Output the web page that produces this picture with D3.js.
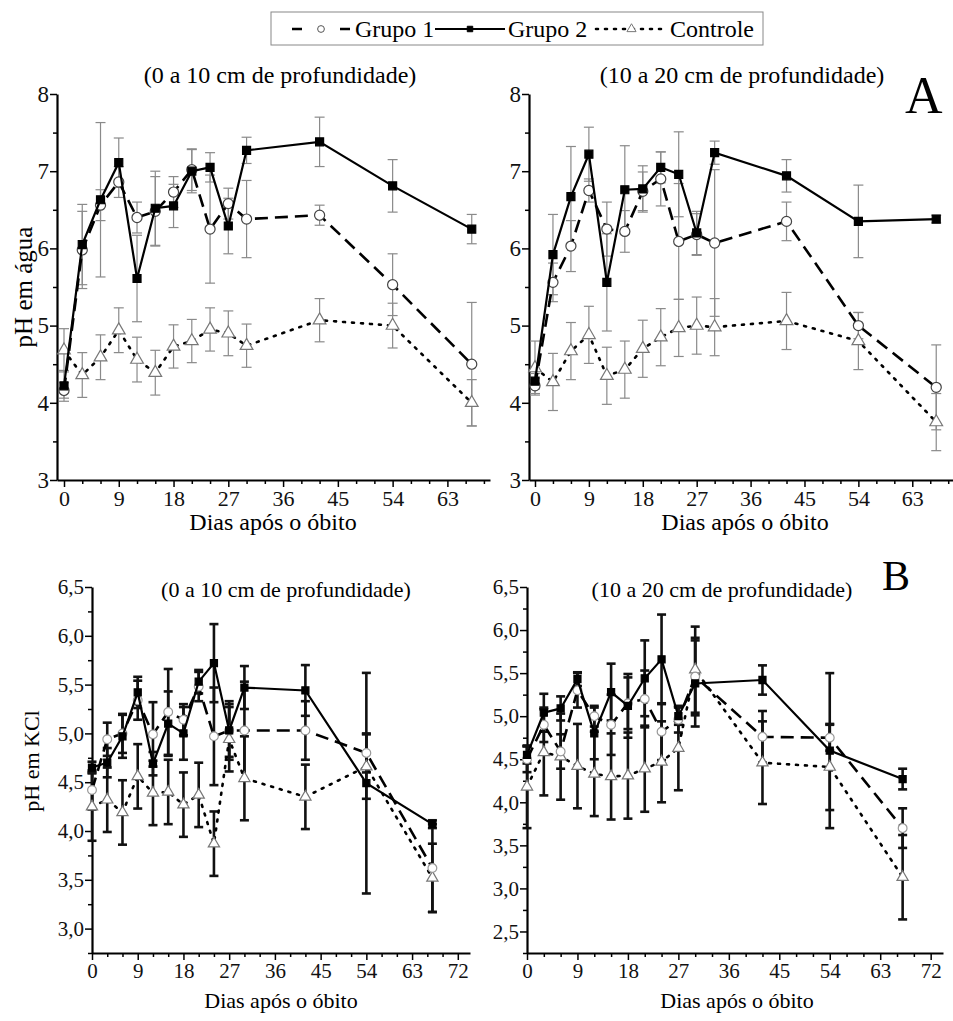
<!DOCTYPE html>
<html>
<head>
<meta charset="utf-8">
<script src="https://cdn.jsdelivr.net/npm/d3@7"></script>
<style>
  body { margin: 0; background: #fff; }
  svg { display: block; font-family: "Liberation Serif", "Times New Roman", serif; }
</style>
</head>
<body>
<svg id="chart"></svg>
<script>
// sampling days (dias após o óbito)
const days = [0, 3, 6, 9, 12, 15, 18, 21, 24, 27, 30, 42, 54, 67];

// pH em água, 0 a 10 cm
const agua010G1 = [4.16, 5.98, 6.56, 6.86, 6.40, 6.48, 6.73, 7.02, 6.25, 6.58, 6.38, 6.43, 5.53, 4.50];
const agua010G1Err = [0.10, 0.50, 0.20, 0.20, 0.20, 0.45, 0.20, 0.27, 0.70, 0.20, 0.50, 0.13, 0.40, 0.80];
const agua010G2 = [4.22, 6.05, 6.63, 7.11, 5.61, 6.52, 6.55, 7.00, 7.05, 6.29, 7.27, 7.38, 6.81, 6.25];
const agua010G2Err = [0.20, 0.52, 1.00, 0.32, 0.56, 0.48, 0.28, 0.28, 0.19, 0.36, 0.17, 0.32, 0.34, 0.19];
const agua010Ctrl = [4.68, 4.36, 4.59, 4.94, 4.56, 4.39, 4.73, 4.80, 4.95, 4.90, 4.74, 5.07, 5.00, 4.00];
const agua010CtrlErr = [0.28, 0.29, 0.29, 0.29, 0.29, 0.29, 0.28, 0.28, 0.28, 0.29, 0.28, 0.28, 0.29, 0.30];

// pH em água, 10 a 20 cm
const agua1020G1 = [4.22, 5.56, 6.03, 6.75, 6.25, 6.22, 6.74, 6.90, 6.09, 6.18, 6.07, 6.35, 5.00, 4.20];
const agua1020G1Err = [0.10, 0.25, 0.33, 0.15, 0.35, 0.27, 0.25, 0.35, 0.75, 0.27, 0.95, 0.25, 0.17, 0.55];
const agua1020G2 = [4.28, 5.92, 6.67, 7.22, 5.56, 6.76, 6.77, 7.05, 6.96, 6.20, 7.24, 6.94, 6.35, 6.38];
const agua1020G2Err = [0.10, 0.52, 0.65, 0.35, 0.63, 0.57, 0.30, 0.20, 0.55, 0.28, 0.15, 0.21, 0.47, 0.05];
const agua1020Ctrl = [4.45, 4.27, 4.67, 4.88, 4.35, 4.43, 4.70, 4.85, 4.97, 5.00, 4.98, 5.06, 4.80, 3.75];
const agua1020CtrlErr = [0.35, 0.37, 0.37, 0.37, 0.37, 0.37, 0.37, 0.37, 0.37, 0.37, 0.37, 0.37, 0.37, 0.37];

// pH em KCl, 0 a 10 cm
const kcl010G1 = [4.42, 4.94, 5.00, 5.34, 4.99, 5.22, 5.14, 5.48, 4.97, 5.03, 5.03, 5.03, 4.80, 3.62];
const kcl010G1Err = [0.20, 0.17, 0.20, 0.20, 0.33, 0.44, 0.16, 0.15, 0.50, 0.30, 0.50, 0.30, 0.20, 0.45];
const kcl010G2 = [4.65, 4.70, 4.97, 5.42, 4.69, 5.10, 5.00, 5.53, 5.72, 5.03, 5.47, 5.44, 4.49, 4.07];
const kcl010G2Err = [0.06, 0.15, 0.22, 0.16, 0.12, 0.33, 0.27, 0.12, 0.40, 0.27, 0.22, 0.26, 1.13, 0.04];
const kcl010Ctrl = [4.25, 4.32, 4.19, 4.56, 4.39, 4.40, 4.27, 4.37, 3.87, 4.94, 4.54, 4.35, 4.66, 3.52];
const kcl010CtrlErr = [0.35, 0.33, 0.33, 0.33, 0.33, 0.33, 0.33, 0.33, 0.33, 0.33, 0.43, 0.33, 0.33, 0.35];

// pH em KCl, 10 a 20 cm
const kcl1020G1 = [4.50, 4.90, 4.59, 5.30, 5.00, 4.90, 5.15, 5.20, 4.82, 4.96, 5.46, 4.76, 4.75, 3.70];
const kcl1020G1Err = [0.15, 0.20, 0.20, 0.20, 0.12, 0.35, 0.30, 0.33, 0.33, 0.15, 0.45, 0.30, 0.15, 0.23];
const kcl1020G2 = [4.55, 5.04, 5.09, 5.43, 4.80, 5.28, 5.12, 5.44, 5.66, 5.00, 5.38, 5.42, 4.60, 4.27];
const kcl1020G2Err = [0.10, 0.22, 0.14, 0.08, 0.30, 0.33, 0.37, 0.44, 0.52, 0.10, 0.50, 0.17, 0.90, 0.12];
const kcl1020Ctrl = [4.18, 4.58, 4.53, 4.42, 4.33, 4.30, 4.31, 4.39, 4.47, 4.63, 5.54, 4.46, 4.41, 3.13];
const kcl1020CtrlErr = [0.48, 0.50, 0.50, 0.49, 0.49, 0.50, 0.50, 0.50, 0.47, 0.49, 0.50, 0.48, 0.50, 0.49];

const seriesNames = ["Grupo 1", "Grupo 2", "Controle"];
const xTicksTop = [0, 9, 18, 27, 36, 45, 54, 63];
const xTicksBottom = [0, 9, 18, 27, 36, 45, 54, 63, 72];
const yTicksTop = [3, 4, 5, 6, 7, 8];
const yTicksKcl010 = [3.0, 3.5, 4.0, 4.5, 5.0, 5.5, 6.0, 6.5];
const yTicksKcl1020 = [2.5, 3.0, 3.5, 4.0, 4.5, 5.0, 5.5, 6.0, 6.5];

const width = 953, height = 1021;
const svg = d3.select("#chart").attr("width", width).attr("height", height);

const ptBR = d3.formatLocale({ decimal: ",", thousands: ".", grouping: [3], currency: ["", ""] });
const fmt1 = ptBR.format(".1f");

const panels = [
  { top: true, title: "(0 a 10 cm de profundidade)", titleX: 280, titleY: 83,
    xDomain: [-1.15, 70], xRange: [57, 490], yDomain: [3, 8], yRange: [480, 94],
    xTicks: xTicksTop, yTicks: yTicksTop, yMinor: 0.5, yFmt: d3.format("d"),
    xLabelX: 273, xLabelY: 530, yLabel: "pH em água", yLabelX: 23, yLabelY: 287,
    g1: agua010G1, g1e: agua010G1Err, g2: agua010G2, g2e: agua010G2Err, c: agua010Ctrl, ce: agua010CtrlErr },
  { top: true, title: "(10 a 20 cm de profundidade)", titleX: 742, titleY: 83,
    xDomain: [-1, 69.8], xRange: [529, 953], yDomain: [3, 8], yRange: [480, 94],
    xTicks: xTicksTop, yTicks: yTicksTop, yMinor: 0.5, yFmt: d3.format("d"),
    xLabelX: 745, xLabelY: 530,
    g1: agua1020G1, g1e: agua1020G1Err, g2: agua1020G2, g2e: agua1020G2Err, c: agua1020Ctrl, ce: agua1020CtrlErr },
  { top: false, title: "(0 a 10 cm de profundidade)", titleX: 286, titleY: 597,
    xDomain: [0, 74.4], xRange: [92, 470], yDomain: [2.75, 6.5], yRange: [953, 587],
    xTicks: xTicksBottom, yTicks: yTicksKcl010, yMinor: 0.25, yFmt: fmt1,
    xLabelX: 281, xLabelY: 1008, yLabel: "pH em KCl", yLabelX: 31, yLabelY: 761,
    g1: kcl010G1, g1e: kcl010G1Err, g2: kcl010G2, g2e: kcl010G2Err, c: kcl010Ctrl, ce: kcl010CtrlErr },
  { top: false, title: "(10 a 20 cm de profundidade)", titleX: 722, titleY: 597,
    xDomain: [0, 74.2], xRange: [527, 943], yDomain: [2.25, 6.5], yRange: [953, 587],
    xTicks: xTicksBottom, yTicks: yTicksKcl1020, yMinor: 0.25, yFmt: fmt1,
    xLabelX: 737, xLabelY: 1008,
    g1: kcl1020G1, g1e: kcl1020G1Err, g2: kcl1020G2, g2e: kcl1020G2Err, c: kcl1020Ctrl, ce: kcl1020CtrlErr }
];

function drawPanel(p) {
  const x = d3.scaleLinear().domain(p.xDomain).range(p.xRange);
  const y = d3.scaleLinear().domain(p.yDomain).range(p.yRange);
  const g = svg.append("g");

  // minor ticks
  const xMinor = d3.range(0, p.xDomain[1], 3).filter(d => d % 9 !== 0);
  g.append("g").attr("transform", `translate(0,${p.yRange[0]})`)
    .call(d3.axisBottom(x).tickValues(xMinor).tickSize(4).tickFormat(""))
    .call(a => a.select(".domain").remove())
    .selectAll("line").attr("stroke-width", 1.5);
  const yMinorVals = d3.range(p.yDomain[0], p.yDomain[1] + 0.001, p.yMinor)
    .filter(v => !p.yTicks.some(t => Math.abs(t - v) < 1e-6));
  g.append("g").attr("transform", `translate(${p.xRange[0]},0)`)
    .call(d3.axisLeft(y).tickValues(yMinorVals).tickSize(4).tickFormat(""))
    .call(a => a.select(".domain").remove())
    .selectAll("line").attr("stroke-width", 1.5);

  // main axes
  const xAxis = g.append("g").attr("transform", `translate(0,${p.yRange[0]})`)
    .call(d3.axisBottom(x).tickValues(p.xTicks).tickSize(7).tickSizeOuter(0).tickPadding(3));
  const yAxis = g.append("g").attr("transform", `translate(${p.xRange[0]},0)`)
    .call(d3.axisLeft(y).tickValues(p.yTicks).tickFormat(p.yFmt).tickSize(7).tickSizeOuter(0).tickPadding(1));
  [xAxis, yAxis].forEach(a => {
    a.attr("font-family", null).attr("font-size", null);
    a.select(".domain").attr("stroke-width", 2.2);
    a.selectAll("line").attr("stroke-width", 1.5);
    a.selectAll("text").attr("fill", "#111");
  });
  xAxis.selectAll("text").attr("font-size", p.top ? 22 : 21);
  yAxis.selectAll("text").attr("font-size", p.top ? 23 : 21);

  // axis titles
  g.append("text").attr("x", p.xLabelX).attr("y", p.xLabelY)
    .attr("text-anchor", "middle").attr("font-size", p.top ? 24 : 22).text("Dias após o óbito");
  if (p.yLabel) {
    g.append("text").attr("transform", `translate(${p.yLabelX},${p.yLabelY}) rotate(-90)`)
      .attr("text-anchor", "middle").attr("dy", "0.35em").attr("font-size", p.top ? 25 : 22).text(p.yLabel);
  }
  g.append("text").attr("x", p.titleX).attr("y", p.titleY)
    .attr("text-anchor", "middle").attr("font-size", p.top ? 24 : 22).text(p.title);

  const errColor = p.top ? "#8a8a8a" : "#111";
  const errWidth = p.top ? 1.2 : 2.6;
  const capW = p.top ? 5 : 4.5;

  const series = [
    { vals: p.c, err: p.ce, dash: "2,7", width: 2.6, sym: d3.symbolTriangle, size: p.top ? 70 : 55, fill: "#fff", stroke: "#777" },
    { vals: p.g1, err: p.g1e, dash: "13,7", width: 2.6, sym: d3.symbolCircle, size: p.top ? 80 : 60, fill: "#fff", stroke: p.top ? "#444" : "#999" },
    { vals: p.g2, err: p.g2e, dash: null, width: 2.2, sym: d3.symbolSquare, size: p.top ? 64 : 50, fill: "#000", stroke: "#000" }
  ];

  // error bars
  series.forEach(s => {
    const eb = g.append("g").attr("stroke", errColor).attr("stroke-width", errWidth);
    days.forEach((d, i) => {
      const cx = x(d), lo = y(s.vals[i] - s.err[i]), hi = y(s.vals[i] + s.err[i]);
      eb.append("line").attr("x1", cx).attr("x2", cx).attr("y1", lo).attr("y2", hi);
      eb.append("line").attr("x1", cx - capW).attr("x2", cx + capW).attr("y1", lo).attr("y2", lo);
      eb.append("line").attr("x1", cx - capW).attr("x2", cx + capW).attr("y1", hi).attr("y2", hi);
    });
  });

  // lines and markers
  const line = d3.line().x((d, i) => x(days[i])).y(d => y(d));
  series.forEach(s => {
    g.append("path").datum(s.vals).attr("d", line).attr("fill", "none")
      .attr("stroke", "#000").attr("stroke-width", s.width)
      .attr("stroke-dasharray", s.dash).attr("stroke-linecap", s.dash === "2,7" ? "round" : "butt");
    g.selectAll(null).data(s.vals).enter().append("path")
      .attr("d", d3.symbol().type(s.sym).size(s.size))
      .attr("transform", (d, i) => `translate(${x(days[i])},${y(d)})`)
      .attr("fill", s.fill).attr("stroke", s.stroke).attr("stroke-width", 1.2);
  });
}

panels.forEach(drawPanel);

// panel letters
svg.append("text").attr("x", 905).attr("y", 113).attr("font-size", 52).text("A");
svg.append("text").attr("x", 882).attr("y", 590).attr("font-size", 42).text("B");

// legend
const legend = svg.append("g");
legend.append("rect").attr("x", 271).attr("y", 12).attr("width", 492).attr("height", 33)
  .attr("fill", "#fff").attr("stroke", "#888").attr("stroke-width", 1);
const legendItems = [
  { name: seriesNames[0], x0: 292, x1: 350, tx: 355, dash: "10,38,10", width: 2.6, sym: d3.symbolCircle, size: 36, fill: "#fff", stroke: "#555" },
  { name: seriesNames[1], x0: 435, x1: 505, tx: 508, dash: null, width: 2.2, sym: d3.symbolSquare, size: 30, fill: "#000", stroke: "#000" },
  { name: seriesNames[2], x0: 596, x1: 667, tx: 670, dash: "2,7", width: 2.6, sym: d3.symbolTriangle, size: 36, fill: "#fff", stroke: "#777" }
];
legendItems.forEach(it => {
  const cy = 29;
  legend.append("line").attr("x1", it.x0).attr("x2", it.x1).attr("y1", cy).attr("y2", cy)
    .attr("stroke", "#000").attr("stroke-width", it.width).attr("stroke-dasharray", it.dash)
    .attr("stroke-linecap", it.dash === "2,7" ? "round" : "butt");
  legend.append("path").attr("d", d3.symbol().type(it.sym).size(it.size))
    .attr("transform", `translate(${(it.x0 + it.x1) / 2},${cy})`)
    .attr("fill", it.fill).attr("stroke", it.stroke).attr("stroke-width", 1);
  legend.append("text").attr("x", it.tx).attr("y", 37).attr("font-size", 24).text(it.name);
});
</script>
</body>
</html>
